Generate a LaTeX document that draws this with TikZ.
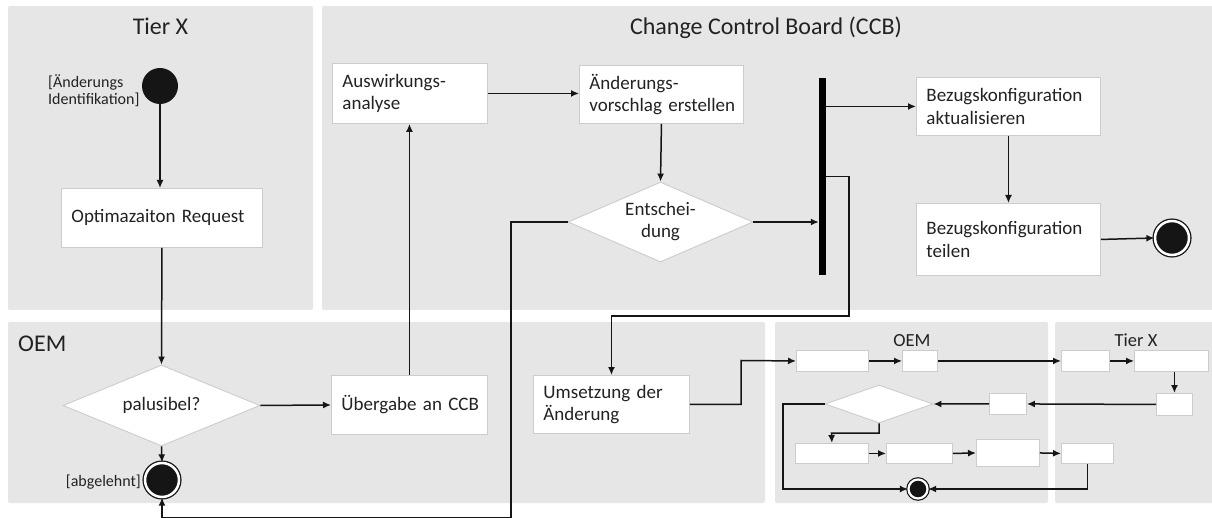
\documentclass[tikz,border=0pt]{standalone}
\usepackage{fontspec}
\setmainfont{Carlito}
\usetikzlibrary{arrows.meta,shapes.geometric}
\definecolor{lanegray}{HTML}{E6E6E6}
\definecolor{boxline}{HTML}{CCCCCC}
\definecolor{ink}{HTML}{151515}
\definecolor{txt}{HTML}{222222}

\begin{document}
\begin{tikzpicture}[x=1pt,y=-1pt,
  lane/.style={fill=lanegray, draw=none, rounded corners=2pt},
  lanetitle/.style={text=txt, font=\fontsize{24}{28}\selectfont, inner sep=0pt, anchor=base},
  subtitle/.style={text=txt, font=\fontsize{18.5}{22}\selectfont, inner sep=0pt, anchor=base},
  box/.style={draw=boxline, fill=white, line width=0.9pt, text=txt,
    font=\fontsize{19}{22.8}\selectfont, align=left, inner xsep=10pt, inner ysep=0pt,
    anchor=north west},
  sbox/.style={draw=boxline, fill=white, line width=0.9pt, inner sep=0pt, anchor=north west},
  decision/.style={diamond, draw=boxline, fill=white, line width=0.9pt, inner sep=0pt},
  dtext/.style={text=txt, font=\fontsize{19}{22}\selectfont, inner sep=0pt},
  smalltext/.style={text=txt, font=\fontsize{16}{17}\selectfont, inner sep=0pt},
  startnode/.style={circle, fill=ink, inner sep=0pt, minimum size=36pt},
  endnode/.style={circle, fill=ink, draw=ink, line width=1.3pt, double=white,
    double distance=2.5pt, inner sep=0pt, minimum size=34pt},
  endsmall/.style={circle, fill=ink, draw=ink, line width=1.2pt, double=white,
    double distance=2.2pt, inner sep=0pt, minimum size=19pt},
  forkbar/.style={rectangle, fill=black, inner sep=0pt},
  flow/.style={draw=ink, line width=1.5pt, -{Latex[length=8pt,width=7pt]}},
]
\useasboundingbox (0,0) rectangle (1212,518);

% swimlanes
\fill[lane] (8,6) rectangle (313,310);
\fill[lane] (322,6) rectangle (1214,310);
\fill[lane] (8,322) rectangle (765,503);
\fill[lane] (775,322) rectangle (1048,503);
\fill[lane] (1055,322) rectangle (1214,503);

% lane titles
\node[lanetitle] (t-tier) at (160.5,35) {Tier X};
\node[lanetitle] (t-ccb) at (766,35) {Change Control Board (CCB)};
\node[lanetitle, anchor=base west] (t-oem) at (18,351.5) {OEM};
\node[subtitle] (t-oem2) at (912,347) {OEM};
\node[subtitle] (t-tier2) at (1136,347) {Tier X};

% Tier X
\node[startnode] (start) at (160,86) {};
\node[smalltext, anchor=west, align=left] (start-l) at (48,90.5) {[Änderungs\\Identifikation]};
\node[box, minimum width=201pt, minimum height=59pt, text width=181pt] (opt) at (61,188) {\mbox{Optimazaiton Request}};

% OEM
\node[decision, minimum width=197pt, minimum height=81pt] (pal) at (161.5,405.5) {};
\node[dtext] (pal-t) at (pal) {palusibel?};
\node[endnode] (rej) at (162,480) {};
\node[smalltext, anchor=east] (rej-l) at (141,482) {[abgelehnt]};
\node[box, minimum width=156pt, minimum height=59pt, text width=136pt] (ueb) at (331,375) {\mbox{Übergabe an CCB}};
\node[box, minimum width=156pt, minimum height=58pt, text width=136pt] (ums) at (533,375) {\mbox{Umsetzung der}\\Änderung};

% CCB
\node[box, minimum width=155pt, minimum height=60pt, text width=135pt] (ausw) at (332,63) {Auswirkungs-\\analyse};
\node[box, minimum width=164pt, minimum height=58pt, text width=144pt] (aend) at (579,65) {Änderungs-\\\mbox{vorschlag erstellen}};
\node[decision, minimum width=185pt, minimum height=80pt] (ent) at (660.5,222) {};
\node[dtext, align=center] (ent-t) at (ent) {Entschei-\\dung};
\node[forkbar, minimum width=7pt, minimum height=197pt] (bar) at (822.5,176.5) {};
\node[box, minimum width=184pt, minimum height=58pt, text width=164pt] (akt) at (916,77) {Bezugskonfiguration\\aktualisieren};
\node[box, minimum width=184pt, minimum height=72pt, text width=164pt] (teil) at (916,203) {Bezugskonfiguration\\teilen};
\node[endnode] (fin) at (1172,238) {};

% sub-process, OEM part
\node[sbox, minimum width=72pt, minimum height=21pt] (b1) at (796,350) {};
\node[sbox, minimum width=35pt, minimum height=21pt] (b2) at (902,350) {};
\node[decision, minimum width=108pt, minimum height=38pt] (sd) at (879,404) {};
\node[sbox, minimum width=37pt, minimum height=21pt] (b3) at (989,393) {};
\node[sbox, minimum width=73pt, minimum height=20pt] (b4) at (795,443) {};
\node[sbox, minimum width=66pt, minimum height=20pt] (b5) at (886,443) {};
\node[sbox, minimum width=63pt, minimum height=27pt] (b6) at (976,439) {};
\node[endsmall] (sfin) at (918,489) {};

% sub-process, Tier X part
\node[sbox, minimum width=48pt, minimum height=21pt] (t1) at (1061,350) {};
\node[sbox, minimum width=74pt, minimum height=21pt] (t2) at (1134,350) {};
\node[sbox, minimum width=36pt, minimum height=22pt] (t3) at (1156,393) {};
\node[sbox, minimum width=52pt, minimum height=20pt] (b7) at (1061,443) {};

% routing points
\coordinate (j1) at (849,316);
\coordinate (j2) at (511,517.5);
\coordinate (j3) at (741,360.5);
\coordinate (j4) at (783,489);
\coordinate (j5) at (831.5,433);

% main flow
\draw[flow] (start.south) -- (start.south |- opt.north);
\draw[flow] (opt.south) -- (pal.north);
\draw[flow] (pal.south) -- (rej.north);
\draw[flow] (pal.east) -- (ueb.west);
\draw[flow] (ueb.north) -- (ueb.north |- ausw.south);
\draw[flow] (ausw.east) -- (ausw.east -| aend.west);
\draw[flow] (aend.south) -- (ent.north);
\draw[flow] (ent.east) -- (ent.east -| bar.west);
\draw[flow] (bar.east |- akt.west) -- (akt.west);
\draw[flow] (akt.south) -- (teil.north);
\draw[flow] (teil.east) -- (fin.west);
\draw[flow] (bar.east) -| (j1) -| (ums.north);
\draw[flow] (ent.west) -| (j2) -| (rej.south);
\draw[flow] (ums.east) -| (j3) -- (b1.west);

% sub-process flow
\draw[flow] (b1.east) -- (b2.west);
\draw[flow] (b2.east) -- (t1.west);
\draw[flow] (t1.east) -- (t2.west);
\draw[flow] (t3.north |- t2.south) -- (t3.north);
\draw[flow] (t3.west) -- (b3.east);
\draw[flow] (b3.west) -- (sd.east);
\draw[flow] (sd.west) -| (j4) -- (sfin.west);
\draw[flow] (sd.south) |- (j5) -- (b4.north);
\draw[flow] (b4.east) -- (b5.west);
\draw[flow] (b5.east) -- (b6.west);
\draw[flow] (b6.east) -- (b7.west);
\draw[flow] (b7.south) |- (sfin.east);
\end{tikzpicture}
\end{document}
